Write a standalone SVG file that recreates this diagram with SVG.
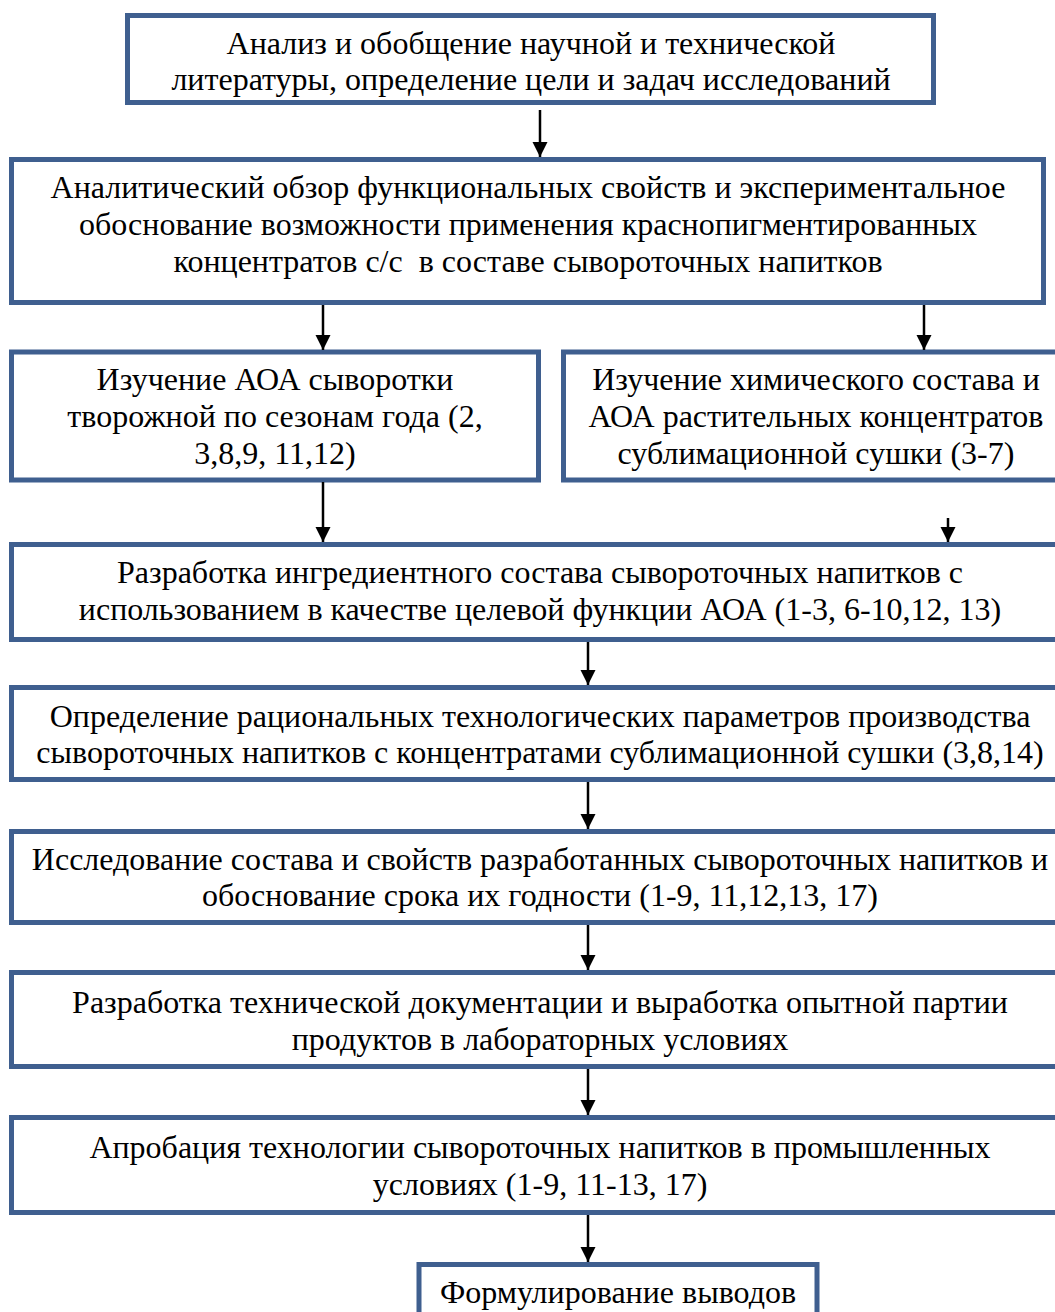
<svg xmlns="http://www.w3.org/2000/svg" width="1055" height="1312" viewBox="0 0 1055 1312">
<style>
.box{fill:#fff;stroke:#3F5F8F;stroke-width:5}
.t{font-family:"Liberation Serif","Times New Roman",serif;font-size:32px;fill:#000;text-anchor:middle}
.c{stroke:#000;stroke-width:2.5;fill:none}
</style>
<defs>
<marker id="ah" markerUnits="userSpaceOnUse" markerWidth="16" markerHeight="16" refX="15" refY="7.5" orient="auto">
<path d="M0,0 L15,7.5 L0,15 Z" fill="#000"/>
</marker>
</defs>
<rect width="1055" height="1312" fill="#fff"/>
<g id="n1"><rect class="box" x="127.5" y="15.5" width="806" height="87"/>
<text class="t" x="531" y="54">Анализ и обобщение научной и технической</text>
<text class="t" x="531" y="90">литературы, определение цели и задач исследований</text></g>
<g id="n2"><rect class="box" x="11.5" y="159.5" width="1032" height="143"/>
<text class="t" x="528" y="198">Аналитический обзор функциональных свойств и экспериментальное</text>
<text class="t" x="528" y="235">обоснование возможности применения краснопигментированных</text>
<text class="t" x="528" y="272" xml:space="preserve">концентратов с/с  в составе сывороточных напитков</text></g>
<g id="n3"><rect class="box" x="11.5" y="352" width="527" height="128"/>
<text class="t" x="275" y="390">Изучение АОА сыворотки</text>
<text class="t" x="275" y="427">творожной по сезонам года (2,</text>
<text class="t" x="275" y="464">3,8,9, 11,12)</text></g>
<g id="n4"><rect class="box" x="563.5" y="352" width="520" height="128"/>
<text class="t" x="816" y="390">Изучение химического состава и</text>
<text class="t" x="816" y="427">АОА растительных концентратов</text>
<text class="t" x="816" y="464">сублимационной сушки (3-7)</text></g>
<g id="n5"><rect class="box" x="11.5" y="544.5" width="1070" height="95"/>
<text class="t" x="540" y="583">Разработка ингредиентного состава сывороточных напитков с</text>
<text class="t" x="540" y="620">использованием в качестве целевой функции АОА (1-3, 6-10,12, 13)</text></g>
<g id="n6"><rect class="box" x="11.5" y="687.5" width="1070" height="92"/>
<text class="t" x="540" y="727">Определение рациональных технологических параметров производства</text>
<text class="t" x="540" y="763">сывороточных напитков с концентратами сублимационной сушки (3,8,14)</text></g>
<g id="n7"><rect class="box" x="11.5" y="831.5" width="1070" height="91"/>
<text class="t" x="540" y="870">Исследование состава и свойств разработанных сывороточных напитков и</text>
<text class="t" x="540" y="906">обоснование срока их годности (1-9, 11,12,13, 17)</text></g>
<g id="n8"><rect class="box" x="11.5" y="972.5" width="1070" height="94"/>
<text class="t" x="540" y="1013">Разработка технической документации и выработка опытной партии</text>
<text class="t" x="540" y="1050">продуктов в лабораторных условиях</text></g>
<g id="n9"><rect class="box" x="11.5" y="1117.5" width="1070" height="95"/>
<text class="t" x="540" y="1158">Апробация технологии сывороточных напитков в промышленных</text>
<text class="t" x="540" y="1195">условиях (1-9, 11-13, 17)</text></g>
<g id="n10"><rect class="box" x="419" y="1264.5" width="398" height="80"/>
<text class="t" x="618" y="1303">Формулирование выводов</text></g>
<g id="connectors">
<line class="c" x1="540" y1="110" x2="540" y2="157" marker-end="url(#ah)"/>
<line class="c" x1="323" y1="305" x2="323" y2="350" marker-end="url(#ah)"/>
<line class="c" x1="924" y1="305" x2="924" y2="350" marker-end="url(#ah)"/>
<line class="c" x1="323" y1="482" x2="323" y2="542" marker-end="url(#ah)"/>
<line class="c" x1="948" y1="518" x2="948" y2="542" marker-end="url(#ah)"/>
<line class="c" x1="588" y1="642" x2="588" y2="685" marker-end="url(#ah)"/>
<line class="c" x1="588" y1="782" x2="588" y2="829" marker-end="url(#ah)"/>
<line class="c" x1="588" y1="925" x2="588" y2="970" marker-end="url(#ah)"/>
<line class="c" x1="588" y1="1069" x2="588" y2="1115" marker-end="url(#ah)"/>
<line class="c" x1="588" y1="1215" x2="588" y2="1262" marker-end="url(#ah)"/>
</g>
</svg>
